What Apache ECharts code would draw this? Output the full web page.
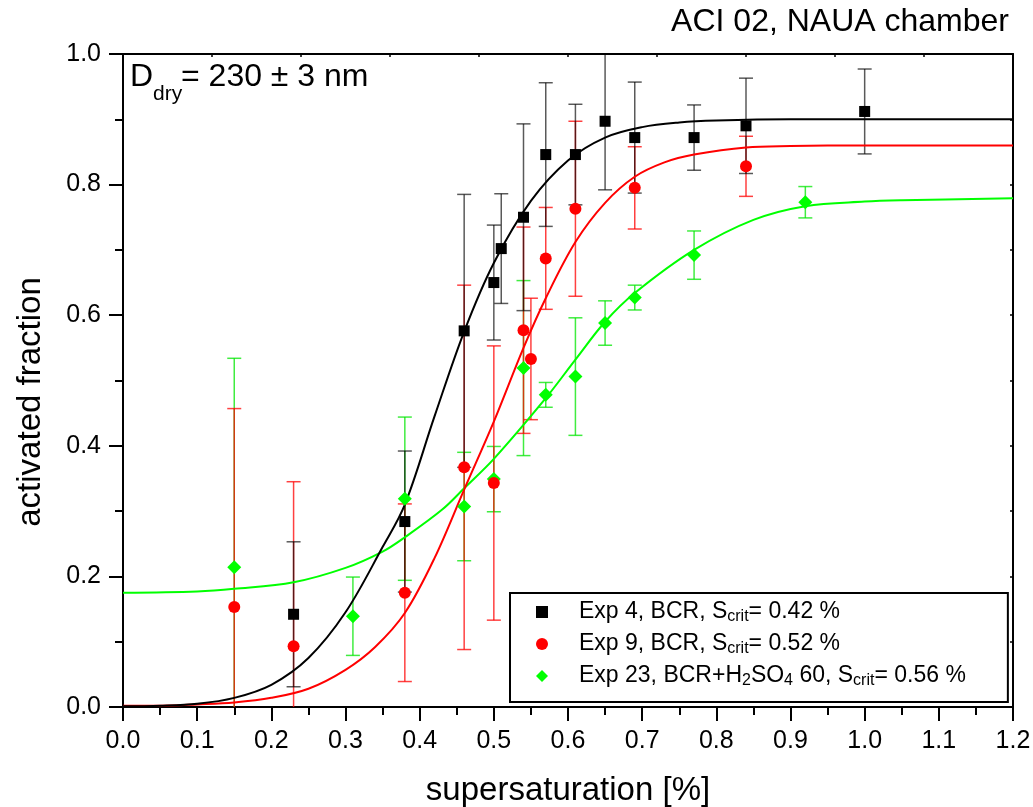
<!DOCTYPE html>
<html><head><meta charset="utf-8">
<script src="https://cdn.jsdelivr.net/npm/echarts@6/dist/echarts.min.js"></script>
<style>html,body{margin:0;padding:0;background:#fff}#c{width:1033px;height:807px}</style>
</head><body><div id="c"></div>
<script>
const FONT = '"Liberation Sans", Arial, Helvetica, sans-serif';

// Exp 4, BCR (black squares)
const exp4X   = [0.23, 0.38, 0.46, 0.50, 0.51, 0.54, 0.57, 0.61, 0.65, 0.69, 0.77, 0.84, 1.00];
const exp4Y   = [0.142, 0.284, 0.576, 0.650, 0.702, 0.750, 0.846, 0.846, 0.897, 0.872, 0.872, 0.890, 0.912];
const exp4Err = [0.111, 0.108, 0.209, 0.088, 0.084, 0.143, 0.110, 0.077, 0.105, 0.085, 0.050, 0.073, 0.065];

// Exp 9, BCR (red circles)
const exp9X   = [0.15, 0.23, 0.38, 0.46, 0.50, 0.54, 0.55, 0.57, 0.61, 0.69, 0.84];
const exp9Y   = [0.153, 0.093, 0.175, 0.367, 0.343, 0.577, 0.533, 0.687, 0.763, 0.795, 0.828];
const exp9Err = [0.304, 0.252, 0.136, 0.279, 0.210, 0.158, 0.093, 0.078, 0.134, 0.063, 0.046];

// Exp 23, BCR+H2SO4 60 (green diamonds)
const exp23X   = [0.15, 0.31, 0.38, 0.46, 0.50, 0.54, 0.57, 0.61, 0.65, 0.69, 0.77, 0.92];
const exp23Y   = [0.214, 0.139, 0.319, 0.307, 0.349, 0.519, 0.478, 0.506, 0.588, 0.627, 0.692, 0.773];
const exp23Err = [0.320, 0.060, 0.125, 0.083, 0.050, 0.134, 0.019, 0.090, 0.034, 0.019, 0.037, 0.024];

// fitted curves
const fit4X = [0, 0.05, 0.1, 0.15, 0.2, 0.25, 0.3, 0.35, 0.38, 0.42, 0.46, 0.5, 0.55, 0.6, 0.65, 0.7, 0.75, 0.8, 0.9, 1.0, 1.2];
const fit4Y = [0.001, 0.002, 0.005, 0.014, 0.034, 0.075, 0.145, 0.245, 0.31, 0.445, 0.575, 0.68, 0.775, 0.837, 0.872, 0.888, 0.895, 0.898, 0.9, 0.9, 0.9];
const fit9X = [0, 0.05, 0.1, 0.15, 0.2, 0.25, 0.3, 0.34, 0.38, 0.42, 0.46, 0.5, 0.54, 0.57, 0.61, 0.65, 0.69, 0.73, 0.77, 0.84, 0.9, 1.0, 1.2];
const fit9Y = [0.002, 0.002, 0.004, 0.007, 0.014, 0.028, 0.057, 0.092, 0.144, 0.228, 0.333, 0.437, 0.55, 0.626, 0.712, 0.772, 0.812, 0.834, 0.846, 0.857, 0.859, 0.86, 0.86];
const fit23X = [0, 0.1, 0.15, 0.23, 0.3, 0.35, 0.38, 0.43, 0.46, 0.5, 0.57, 0.61, 0.65, 0.69, 0.77, 0.85, 0.92, 1.0, 1.05, 1.2];
const fit23Y = [0.175, 0.177, 0.181, 0.191, 0.213, 0.238, 0.26, 0.302, 0.335, 0.38, 0.473, 0.532, 0.59, 0.634, 0.700, 0.746, 0.767, 0.774, 0.776, 0.779];

const legendNames = ['Exp 4, BCR, S_crit= 0.42 %', 'Exp 9, BCR, S_crit= 0.52 %', 'Exp 23, BCR+H2SO4 60, S_crit= 0.56 %'];
const legendRich = [
  'Exp 4, BCR, S{sub|crit}= 0.42 %',
  'Exp 9, BCR, S{sub|crit}= 0.52 %',
  'Exp 23, BCR+H{sub|2}SO{sub|4} 60, S{sub|crit}= 0.56 %'
];

const zip = (a, b) => a.map((v, i) => [v, b[i]]);
const zip3 = (a, b, c) => a.map((v, i) => [v, b[i], c[i]]);

function errSeries(name, X, Y, E, color) {
  return {
    type: 'custom', name: name, clip: true, z: 2, silent: true,
    data: zip3(X, Y, E),
    renderItem: function (params, api) {
      const x = api.value(0), y = api.value(1), e = api.value(2);
      const t = api.coord([x, y + e]);
      const b = api.coord([x, y - e]);
      const hw = 7;
      const st = { stroke: color, lineWidth: 1.5, fill: null };
      return { type: 'group', children: [
        { type: 'line', shape: { x1: t[0], y1: t[1], x2: b[0], y2: b[1] }, style: st },
        { type: 'line', shape: { x1: t[0] - hw, y1: t[1], x2: t[0] + hw, y2: t[1] }, style: st },
        { type: 'line', shape: { x1: b[0] - hw, y1: b[1], x2: b[0] + hw, y2: b[1] }, style: st }
      ]};
    }
  };
}
function fitSeries(name, X, Y, color) {
  return { type: 'line', name: name, data: zip(X, Y), smooth: 0.35,
    showSymbol: false, symbol: 'none', lineStyle: { color: color, width: 2 }, z: 3, silent: true };
}
function ptSeries(name, X, Y, symbol, size, color) {
  return { type: 'scatter', name: name, data: zip(X, Y), symbol: symbol, symbolSize: size,
    itemStyle: { color: color, opacity: 1 }, z: 4 };
}

const chart = echarts.init(document.getElementById('c'));
chart.setOption({
  animation: false,
  backgroundColor: '#fff',
  grid: { left: 123, top: 54, width: 890, height: 653, containLabel: false, outerBoundsMode: 'none' },
  xAxis: [{
    type: 'value', position: 'bottom', min: 0, max: 1.2, interval: 0.1,
    name: 'supersaturation [%]', nameLocation: 'middle', nameGap: 67,
    nameTextStyle: { fontFamily: FONT, fontSize: 33, color: '#000' },
    axisLine: { show: true, onZero: false, lineStyle: { color: '#000', width: 2 } },
    axisTick: { show: true, inside: false, length: 14, lineStyle: { color: '#000', width: 2 } },
    minorTick: { show: true, splitNumber: 2, length: 8, lineStyle: { color: '#000', width: 2 } },
    axisLabel: { fontFamily: FONT, fontSize: 25, color: '#000', margin: 22, formatter: v => v.toFixed(1) },
    splitLine: { show: false }
  }, {
    type: 'value', position: 'top', min: 0, max: 1.2, interval: 0.12,
    axisLine: { show: true, onZero: false, lineStyle: { color: '#000', width: 2 } },
    axisTick: { show: true, inside: true, length: 3, lineStyle: { color: '#000', width: 1.5 } },
    axisLabel: { show: false }, splitLine: { show: false }
  }],
  yAxis: [{
    type: 'value', position: 'left', min: 0, max: 1.0, interval: 0.2,
    axisLine: { show: true, onZero: false, lineStyle: { color: '#000', width: 2 } },
    axisTick: { show: true, inside: false, length: 14, lineStyle: { color: '#000', width: 2 } },
    minorTick: { show: true, splitNumber: 2, length: 8, lineStyle: { color: '#000', width: 2 } },
    axisLabel: { fontFamily: FONT, fontSize: 25, color: '#000', margin: 22, formatter: v => v.toFixed(1) },
    splitLine: { show: false }
  }, {
    type: 'value', position: 'right', min: 0, max: 1.0, interval: 0.1,
    axisLine: { show: true, onZero: false, lineStyle: { color: '#000', width: 2 } },
    axisTick: { show: true, inside: true, length: 3, lineStyle: { color: '#000', width: 1.5 } },
    axisLabel: { show: false }, splitLine: { show: false }
  }],
  legend: {
    orient: 'vertical', left: 510, top: 593,
    data: legendNames,
    itemWidth: 12, itemHeight: 12, itemGap: 6,
    padding: [6, 42, 13, 26],
    borderColor: '#000', borderWidth: 2, backgroundColor: '#fff',
    selectedMode: false,
    formatter: name => legendRich[legendNames.indexOf(name)],
    textStyle: {
      fontFamily: FONT, fontSize: 23, color: '#000', lineHeight: 26, padding: [0, 0, 0, 26],
      rich: { sub: { fontFamily: FONT, fontSize: 16, color: '#000', lineHeight: 4, verticalAlign: 'bottom' } }
    }
  },
  graphic: [
    { type: 'text', right: 1033 - 1009, top: 6, style: { text: 'ACI 02, NAUA chamber', font: '32px ' + FONT, fill: '#000' } },
    { type: 'text', x: 31, y: 402, rotation: Math.PI / 2,
      style: { text: 'activated fraction', font: '33px ' + FONT, fill: '#000', align: 'center', verticalAlign: 'middle' } },
    { type: 'text', left: 130, top: 61, style: { text: 'D', font: '32px ' + FONT, fill: '#000' } },
    { type: 'text', left: 153, top: 84, style: { text: 'dry', font: '21px ' + FONT, fill: '#000' } },
    { type: 'text', left: 181, top: 61, style: { text: '= 230 ± 3 nm', font: '32px ' + FONT, fill: '#000' } }
  ],
  series: [
    errSeries('err23', exp23X, exp23Y, exp23Err, 'rgba(0,230,0,0.75)'),
    errSeries('err9', exp9X, exp9Y, exp9Err, 'rgba(255,0,0,0.75)'),
    errSeries('err4', exp4X, exp4Y, exp4Err, 'rgba(0,0,0,0.65)'),
    fitSeries('fit23', fit23X, fit23Y, '#00ff00'),
    fitSeries('fit9', fit9X, fit9Y, '#ff0000'),
    fitSeries('fit4', fit4X, fit4Y, '#000000'),
    ptSeries(legendNames[2], exp23X, exp23Y, 'diamond', 14, '#00ff00'),
    ptSeries(legendNames[1], exp9X, exp9Y, 'circle', 12, '#ff0000'),
    ptSeries(legendNames[0], exp4X, exp4Y, 'rect', 11, '#000000')
  ]
});
</script></body></html>
